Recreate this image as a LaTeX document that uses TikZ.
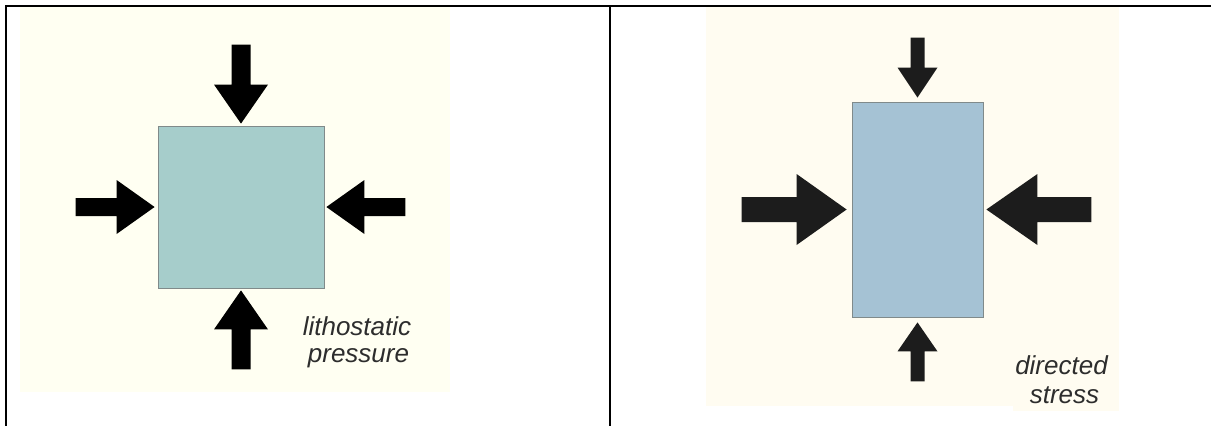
\documentclass[tikz,border=0pt]{standalone}
\usepackage{fontspec}
\newfontfamily\labelfont{Liberation Sans}
\definecolor{creamL}{RGB}{255,255,242}
\definecolor{creamR}{RGB}{255,252,241}
\definecolor{tealblock}{RGB}{166,205,203}
\definecolor{blueblock}{RGB}{165,194,212}
\definecolor{blockedge}{RGB}{128,138,138}
\definecolor{arrowR}{RGB}{28,28,28}
\definecolor{labelgray}{RGB}{45,45,45}
\tikzset{
  frameline/.style={line width=2.2pt, black},
  block/.style={draw=blockedge, line width=0.8pt, inner sep=0pt},
  caption/.style={font=\labelfont\itshape\fontsize{26}{28}\selectfont, text=labelgray, inner sep=0pt, anchor=base},
  % block arrow with its tip at the origin, pointing along +x:
  % #1 total length, #2 head length, #3 head width, #4 shaft width
  pics/barrow/.style n args={4}{code={
    \fill (0,0) -- (-#2,{#3/2}) -- (-#2,{#4/2}) -- (-#1,{#4/2})
      -- (-#1,{-#4/2}) -- (-#2,{-#4/2}) -- (-#2,{-#3/2}) -- cycle;
  }},
}
\begin{document}
\begin{tikzpicture}[x=1pt,y=-1pt]
\useasboundingbox (0,0) rectangle (1211,426);
\fill[white] (0,0) rectangle (1211,426);

% table rules
\draw[frameline] (5,6.3) -- (1211,6.3);
\draw[frameline] (6,5.2) -- (6,426);
\draw[frameline] (610,5.2) -- (610,426);

% panel backgrounds
\fill[creamL] (20,7.2) rectangle (450,392);
\fill[creamR] (706,7.2) rectangle (1119,406);
\fill[creamR] (1013,7.2) rectangle (1119,411);

% ---- lithostatic pressure ----
\node[block, fill=tealblock, minimum width=166pt, minimum height=162pt] (sq) at (241,207) {};
\begin{scope}[black]
  \pic[rotate=-90] at ([yshift=2pt]sq.north) {barrow={79}{39}{54}{19}};
  \pic[rotate=90]  at ([yshift=-2pt]sq.south) {barrow={79}{39}{54}{19}};
  \pic             at ([xshift=-3pt]sq.west)  {barrow={79}{38}{54}{18}};
  \pic[rotate=180] at ([xshift=2pt]sq.east)   {barrow={79}{38}{54}{18}};
\end{scope}
\node[caption] (lithoA) at (357,335) {lithostatic};
\node[caption] (lithoB) at (358.5,362) {pressure};

% ---- directed stress ----
\node[block, fill=blueblock, minimum width=131pt, minimum height=215pt] (rc) at (917.5,209.5) {};
\begin{scope}[arrowR]
  \pic[rotate=-90] at ([yshift=4pt]rc.north)  {barrow={60}{30}{40}{14}};
  \pic[rotate=90]  at ([yshift=-5pt]rc.south) {barrow={59}{29}{40}{14}};
  \pic             at ([xshift=-5pt]rc.west)  {barrow={105}{50}{71}{25}};
  \pic[rotate=180] at ([xshift=3pt]rc.east)   {barrow={105}{51}{71}{25}};
\end{scope}
\node[caption] (dirA) at (1061.5,374) {directed};
\node[caption] (dirB) at (1064.5,403) {stress};
\end{tikzpicture}
\end{document}
